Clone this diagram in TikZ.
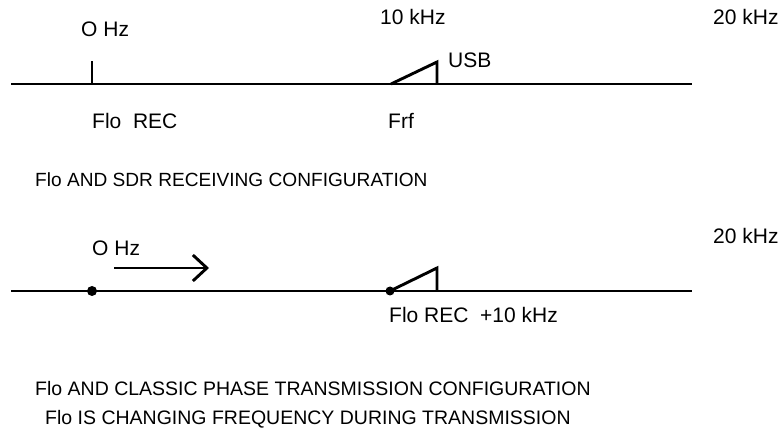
\documentclass[tikz,border=0pt]{standalone}
\usepackage{fontspec}
\setmainfont{Liberation Sans}
\usetikzlibrary{arrows.meta,positioning}

\begin{document}
\begin{tikzpicture}[
    x=1pt, y=-1pt,
    >={Straight Barb[length=14pt,width=26pt]},
    axis/.style={line width=2.9pt},
    dot/.style={circle, fill, inner sep=0pt, minimum size=10pt},
    lbl/.style={inner sep=0pt, anchor=base west,
                font=\fontsize{21}{25}\selectfont},
    capt/.style={inner sep=0pt, anchor=base west,
                 font=\fontsize{19.5}{24}\selectfont}
]
    \useasboundingbox (0,0) rectangle (781,435);

    % Receiving configuration
    \coordinate (A1) at (11,84);
    \coordinate (B1) at (692,84);
    \coordinate (LO1) at (92,84);
    \coordinate (LOtop) at (92,61);
    \coordinate (RF1) at (391,84);
    \coordinate (SB1) at (437,62);
    \coordinate (SBfoot1) at (437,84);
    \draw[axis] (A1) -- (B1);
    \draw[axis] (LO1) -- (LOtop);
    \draw[axis] (RF1) -- (SB1) -- (SBfoot1);

    \node[lbl] (zero1) at (81,37) {O Hz};
    \node[lbl] (ten1)  at (380,25) {10 kHz};
    \node[lbl] (top1)  at (713,25) {20 kHz};
    \node[lbl] (usb)   at (448,68) {USB};
    \node[lbl] (flo1)  at (92,129) {Flo\ \ REC};
    \node[lbl] (frf)   at (388,129) {Frf};
    \node[capt, font=\fontsize{19.1}{24}\selectfont] (cap1) at (35,187)
        {Flo AND SDR RECEIVING CONFIGURATION};

    % Transmission configuration
    \coordinate (A2) at (11,291);
    \coordinate (B2) at (692,291);
    \node[dot] (LO2) at (92,291) {};
    \node[dot, minimum size=9pt] (RF2) at (390,291) {};
    \coordinate (SB2) at (437,268);
    \coordinate (SBfoot2) at (437,291);
    \coordinate (sweepA) at (114,268);
    \coordinate (sweepB) at (209,268);
    \draw[axis] (A2) -- (B2);
    \draw[axis] (RF2.center) -- (SB2) -- (SBfoot2);
    \draw[axis, ->] (sweepA) -- (sweepB);

    \node[lbl] (zero2) at (92,256) {O Hz};
    \node[lbl] (top2)  at (713,244) {20 kHz};
    \node[lbl] (flo2)  at (389,323) {Flo REC\ \ +10 kHz};
    \node[capt] (cap2) at (35,395)
        {Flo AND CLASSIC PHASE TRANSMISSION CONFIGURATION};
    \node[capt] (cap3) at (45,424)
        {Flo IS CHANGING FREQUENCY DURING TRANSMISSION};
\end{tikzpicture}
\end{document}
